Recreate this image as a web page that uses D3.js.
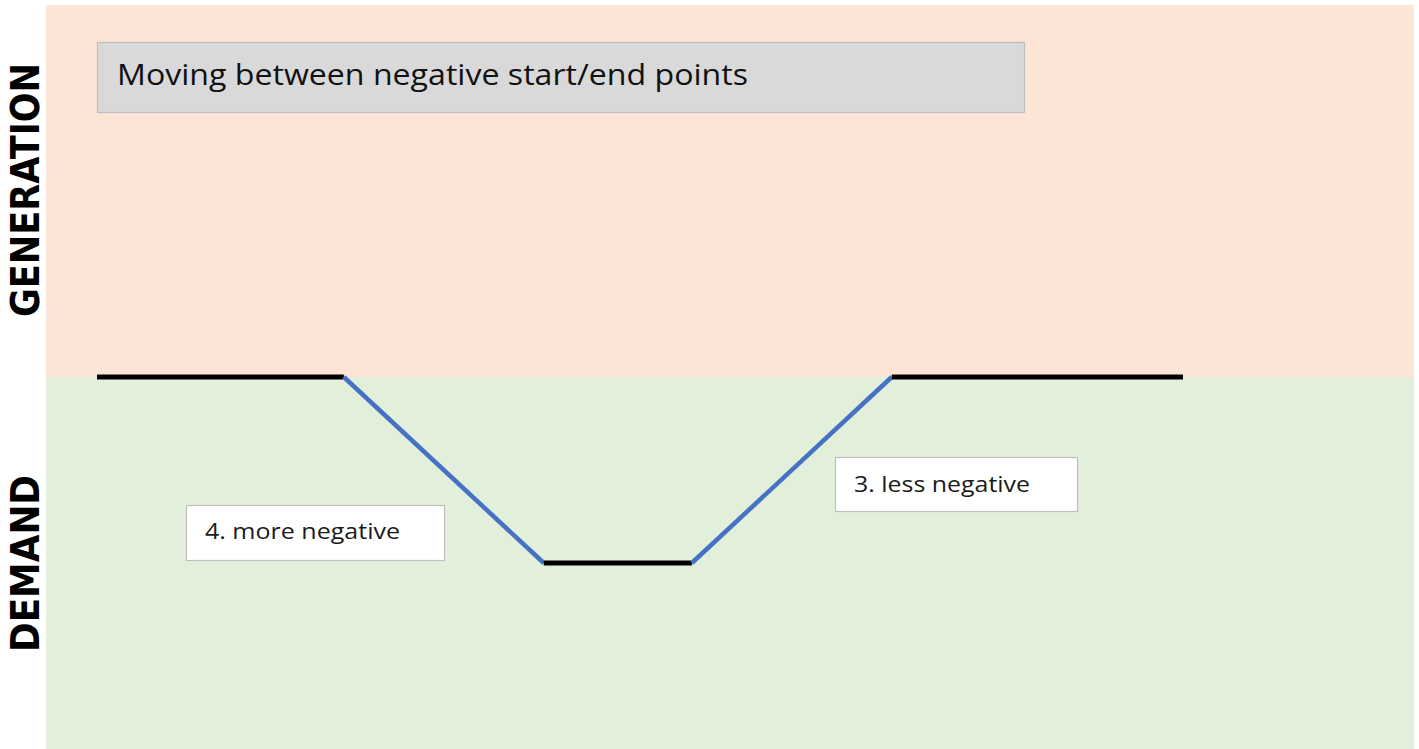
<!DOCTYPE html>
<html>
<head>
<meta charset="utf-8">
<script src="https://cdn.jsdelivr.net/npm/d3@7"></script>
<style>
  html, body { margin: 0; padding: 0; background: #ffffff; }
  svg { display: block; }
</style>
</head>
<body>
<div id="chart"></div>
<script>
// ---- data ----
const steps = [0, 5, 9.05, 12.05, 16.1, 22];  // time steps of the path
const values = [0, 0, -1, -1, 0, 0];          // net position (generation > 0, demand < 0)
const bands = ["GENERATION", "DEMAND"];
const bandRanges = [[0, 2], [-2, 0]];
const title = "Moving between negative start/end points";
const notes = ["4. more negative", "3. less negative"];

const W = 1419, H = 749;
const svg = d3.select("#chart").append("svg").attr("width", W).attr("height", H);

const x = d3.scaleLinear().domain([0, 22]).range([97, 1183]);
const y = d3.scaleLinear().domain([-2, 2]).range([749, 5]);
const plotLeft = 46, plotRight = 1414;

const bandColors = ["#FCE4D6", "#E2EFDA"];
svg.selectAll("rect.band").data(bandRanges).enter().append("rect")
  .attr("class", "band")
  .attr("x", plotLeft).attr("width", plotRight - plotLeft)
  .attr("y", d => y(d[1])).attr("height", d => y(d[0]) - y(d[1]))
  .attr("fill", (d, i) => bandColors[i]);

// band labels (vertical)
svg.selectAll("text.bandlabel").data(bands).enter().append("text")
  .attr("class", "bandlabel")
  .attr("transform", (d, i) => {
    const cy = i === 0 ? 190 : 563.5;
    return `translate(39,${cy}) rotate(-90)`;
  })
  .attr("text-anchor", "middle")
  .attr("font-family", "DejaVu Sans")
  .attr("font-weight", "bold")
  .attr("font-size", 39)
  .attr("textLength", (d, i) => i === 0 ? 254 : 177)
  .attr("lengthAdjust", "spacingAndGlyphs")
  .attr("fill", "#000")
  .text(d => d);

// title box
svg.append("rect").attr("x", 97.5).attr("y", 42.5).attr("width", 927).attr("height", 70)
  .attr("fill", "#D9D9D9").attr("stroke", "#BFBFBF").attr("stroke-width", 1.2);
svg.append("text").attr("x", 117).attr("y", 85)
  .attr("font-family", "Open Sans").attr("font-size", 30)
  .attr("textLength", 631).attr("lengthAdjust", "spacingAndGlyphs")
  .attr("fill", "#111").text(title);

// path segments
const pts = steps.map((s, i) => ({ s, v: values[i] }));
const segs = d3.pairs(pts);
svg.selectAll("line.seg").data(segs).enter().append("line")
  .attr("class", "seg")
  .attr("x1", d => x(d[0].s)).attr("y1", d => y(d[0].v))
  .attr("x2", d => x(d[1].s)).attr("y2", d => y(d[1].v))
  .attr("stroke", d => d[0].v === d[1].v ? "#000000" : "#4472C4")
  .attr("stroke-width", d => d[0].v === d[1].v ? 5 : 4.5)
  .attr("stroke-linecap", "butt");

// note boxes
const noteBoxes = [
  { x: 186.5, y: 505.5, w: 258, h: 55, tx: 205, ty: 539, tl: 195 },
  { x: 835.5, y: 457.5, w: 242, h: 54, tx: 854, ty: 492, tl: 176 }
];
noteBoxes.forEach((b, i) => {
  svg.append("rect").attr("x", b.x).attr("y", b.y).attr("width", b.w).attr("height", b.h)
    .attr("fill", "#ffffff").attr("stroke", "#BFBFBF").attr("stroke-width", 1.2);
  svg.append("text").attr("x", b.tx).attr("y", b.ty)
    .attr("font-family", "Open Sans").attr("font-size", 21)
    .attr("textLength", b.tl).attr("lengthAdjust", "spacingAndGlyphs")
    .attr("fill", "#1a1a1a").text(notes[i]);
});
</script>
</body>
</html>
